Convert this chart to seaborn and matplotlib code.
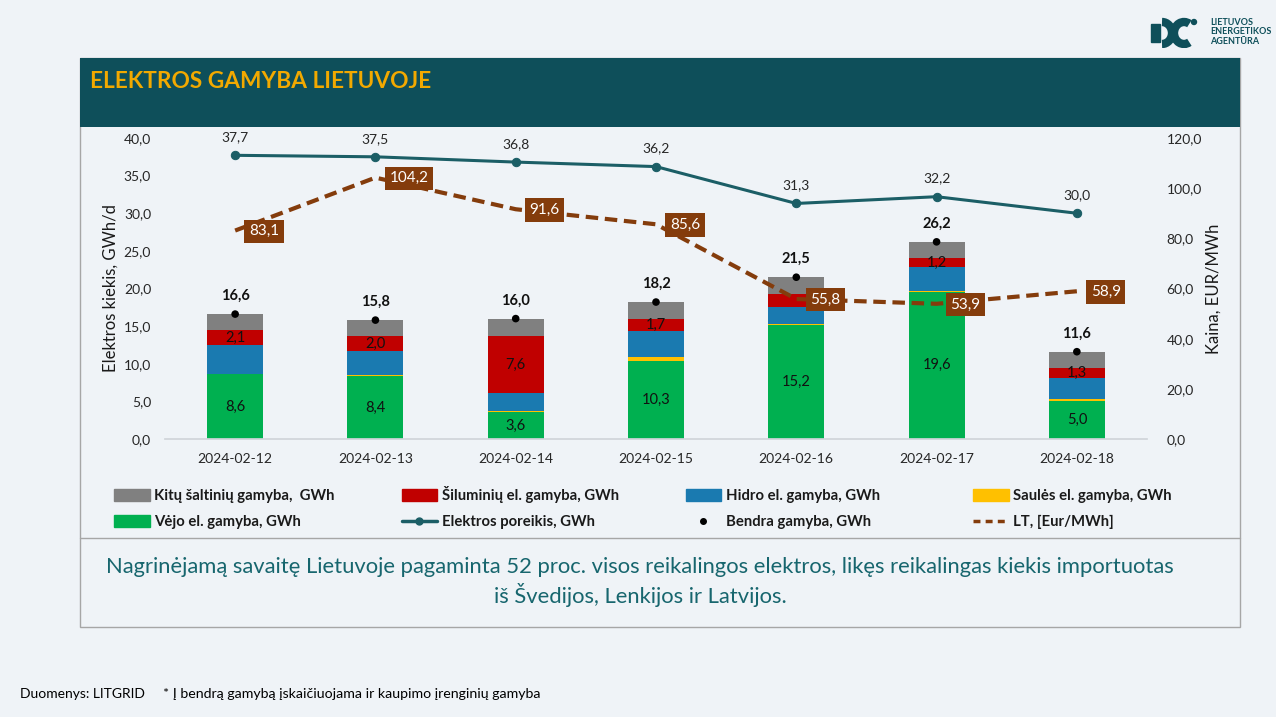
import numpy as np
import pandas as pd
import matplotlib.pyplot as plt
import seaborn as sns
from matplotlib.patches import Rectangle, Patch, Arc, Circle
from matplotlib.lines import Line2D
from matplotlib.ticker import FuncFormatter, MultipleLocator

# data
dates = ['2024-02-12', '2024-02-13', '2024-02-14', '2024-02-15', '2024-02-16', '2024-02-17', '2024-02-18']
vejo = [8.6, 8.4, 3.6, 10.3, 15.2, 19.6, 5.0]
saules = [0.05, 0.1, 0.15, 0.6, 0.1, 0.05, 0.3]
hidro = [3.8, 3.2, 2.3, 3.4, 2.3, 3.15, 2.8]
siluminiu = [2.1, 2.0, 7.6, 1.7, 1.7, 1.2, 1.3]
bendra = [16.6, 15.8, 16.0, 18.2, 21.5, 26.2, 11.6]
poreikis = [37.7, 37.5, 36.8, 36.2, 31.3, 32.2, 30.0]
kaina = [83.1, 104.2, 91.6, 85.6, 55.8, 53.9, 58.9]
sil_labels = ['2,1', '2,0', '7,6', '1,7', '', '1,2', '1,3']

W, H = 1276, 717
BG = '#EFF3F7'
TEAL = '#0E4F5A'
LINE_TEAL = '#1B5E66'
BROWN = '#843C0C'
C_GRAY, C_RED, C_BLUE, C_YEL, C_GREEN = '#808080', '#C00000', '#1A7AB0', '#FFC000', '#00B050'

sns.set_theme(style='white')
plt.rcParams['font.family'] = ['Lato', 'DejaVu Sans']


def fx(x):
    return x / W


def fy(y):
    return 1 - y / H


def comma(v, _=None):
    return f'{v:.1f}'.replace('.', ',')


fig = plt.figure(figsize=(W / 100, H / 100), dpi=100, facecolor=BG)

# panel frame, header band, separator
fig.patches.append(Rectangle((fx(80), fy(627)), fx(1160), 569 / H, transform=fig.transFigure,
                             facecolor='none', edgecolor='#A6A6A6', lw=1, zorder=0))
fig.patches.append(Rectangle((fx(80), fy(127)), fx(1160), 69 / H, transform=fig.transFigure,
                             facecolor=TEAL, edgecolor='none', zorder=1))
fig.lines.append(Line2D([fx(80), fx(1240)], [fy(538), fy(538)], transform=fig.transFigure,
                        color='#A6A6A6', lw=1))
fig.text(fx(90), fy(82), 'ELEKTROS GAMYBA LIETUVOJE', color='#F2A900', fontsize=16.3,
         fontweight='bold', va='center', ha='left')

ax = fig.add_axes([fx(165), fy(439), fx(982), 301 / H])
ax.set_facecolor('none')
pos = np.arange(len(dates))
df = pd.DataFrame({'pos': pos, 'vejo': vejo, 'saules': saules, 'hidro': hidro,
                   'siluminiu': siluminiu, 'bendra': bendra})
df['c_sau'] = df['vejo'] + df['saules']
df['c_hid'] = df['c_sau'] + df['hidro']
df['c_sil'] = df['c_hid'] + df['siluminiu']

for col, c in [('bendra', C_GRAY), ('c_sil', C_RED), ('c_hid', C_BLUE), ('c_sau', C_YEL), ('vejo', C_GREEN)]:
    sns.barplot(data=df, x='pos', y=col, color=c, native_scale=True, width=0.4,
                errorbar=None, ax=ax, saturation=1, edgecolor='none', linewidth=0)

sns.scatterplot(x=pos, y=bendra, color='black', s=30, ax=ax, zorder=5, edgecolor='none')

for i in pos:
    ax.text(i, vejo[i] / 2, comma(vejo[i]), ha='center', va='center', fontsize=10.5, color='#111111')
    if sil_labels[i]:
        ax.text(i, df['c_hid'][i] + siluminiu[i] / 2, sil_labels[i], ha='center', va='center',
                fontsize=10.5, color='#111111')
    ax.annotate(comma(bendra[i]), (i, bendra[i]), xytext=(0, 13), textcoords='offset points',
                ha='center', va='center', fontsize=10.5, fontweight='bold', color='#111111')

sns.lineplot(x=pos, y=poreikis, color=LINE_TEAL, lw=2.2, marker='o', markersize=6,
             markeredgecolor=LINE_TEAL, ax=ax, zorder=4)
for i in pos:
    ax.annotate(comma(poreikis[i]), (i, poreikis[i]), xytext=(0, 13), textcoords='offset points',
                ha='center', va='center', fontsize=10, color='#262626')

ax.set_xlim(-0.5, 6.5)
ax.set_ylim(0, 40)
ax.yaxis.set_major_locator(MultipleLocator(5))
ax.yaxis.set_major_formatter(FuncFormatter(comma))
ax.set_xticks(pos)
ax.set_xticklabels(dates)
ax.set_xlabel('')
ax.set_ylabel('Elektros kiekis, GWh/d', fontsize=12, color='#1a1a1a', labelpad=4)
ax.tick_params(axis='both', labelsize=10, colors='#262626', length=0, pad=10)
for s in ['top', 'left', 'right']:
    ax.spines[s].set_visible(False)
ax.spines['bottom'].set_color('#D0D5DA')

ax2 = ax.twinx()
sns.lineplot(x=pos, y=kaina, color=BROWN, lw=3, ax=ax2, zorder=3)
ax2.lines[-1].set_dashes([3, 1.6])
for i in pos:
    ax2.annotate(comma(kaina[i]), (i, kaina[i]), xytext=(10, -0.5), textcoords='offset points',
                 ha='left', va='center', fontsize=11, color='white',
                 bbox=dict(boxstyle='square,pad=0.3', fc=BROWN, ec='none'))
ax2.set_ylim(0, 120)
ax2.yaxis.set_major_locator(MultipleLocator(20))
ax2.yaxis.set_major_formatter(FuncFormatter(comma))
ax2.set_ylabel('Kaina, EUR/MWh', fontsize=12, color='#1a1a1a', labelpad=3)
ax2.tick_params(axis='y', labelsize=10, colors='#262626', length=0, pad=14)
for s in ['top', 'left', 'right', 'bottom']:
    ax2.spines[s].set_visible(False)

# legend: first three columns in one legend, the fourth column separately
h_gray = Patch(color=C_GRAY)
h_red = Patch(color=C_RED)
h_blue = Patch(color=C_BLUE)
h_yel = Patch(color=C_YEL)
h_green = Patch(color=C_GREEN)
h_dem = Line2D([], [], color=LINE_TEAL, lw=2.5, marker='o', markersize=5)
h_tot = Line2D([], [], color='black', lw=0, marker='o', markersize=4)
h_pr = Line2D([], [], color=BROWN, lw=2.5, dashes=[2, 1.5])
leg_kw = dict(frameon=False, prop={'weight': 'bold', 'size': 10.7}, handlelength=2.4,
              handleheight=0.9, handletextpad=0.3, labelspacing=0.8, borderaxespad=0, borderpad=0)
leg1 = fig.legend([h_gray, h_green, h_red, h_dem, h_blue, h_tot],
                  ['Kitų šaltinių gamyba,  GWh', 'Vėjo el. gamyba, GWh',
                   'Šiluminių el. gamyba, GWh', 'Elektros poreikis, GWh',
                   'Hidro el. gamyba, GWh', 'Bendra gamyba, GWh'],
                  ncol=3, loc='upper left', bbox_to_anchor=(fx(114), fy(486)), columnspacing=4.5,
                  **leg_kw)
leg2 = fig.legend([h_yel, h_pr], ['Saulės el. gamyba, GWh', 'LT, [Eur/MWh]'],
                  loc='upper left', bbox_to_anchor=(fx(973), fy(489)), **leg_kw)
for leg in (leg1, leg2):
    for t in leg.get_texts():
        t.set_color('#1a1a1a')

fig.text(fx(640), fy(582), 'Nagrinėjamą savaitę Lietuvoje pagaminta 52 proc. visos reikalingos elektros, '
         'likęs reikalingas kiekis importuotas\niš Švedijos, Lenkijos ir Latvijos.',
         ha='center', va='center', fontsize=15.8, color='#17666E', linespacing=1.3)

# footer
fig.text(fx(20), fy(694), 'Duomenys: LITGRID', fontsize=10, color='black', va='center')
fig.text(fx(163), fy(694), '* Į bendrą gamybą įskaičiuojama ir kaupimo įrenginių gamyba',
         fontsize=10.2, color='black', va='center')

# logo
lax = fig.add_axes([fx(1148), fy(48), fx(60), 32 / H])
lax.set_xlim(0, 60)
lax.set_ylim(0, 32)
lax.axis('off')
lax.add_patch(Arc((14, 15), 20, 22, theta1=-90, theta2=90, lw=6, color=TEAL))
lax.add_patch(Rectangle((3, 6), 9, 18, color=TEAL))
lax.add_patch(Arc((36, 15), 20, 22, theta1=60, theta2=300, lw=6, color=TEAL))
lax.add_patch(Circle((46, 26), 2.5, color=TEAL))
fig.text(fx(1210), fy(32), 'LIETUVOS\nENERGETIKOS\nAGENTŪRA', fontsize=6.5, fontweight='bold',
         color=TEAL, va='center', ha='left', linespacing=1.1)

fig.savefig('out.png', dpi=100, facecolor=BG)
